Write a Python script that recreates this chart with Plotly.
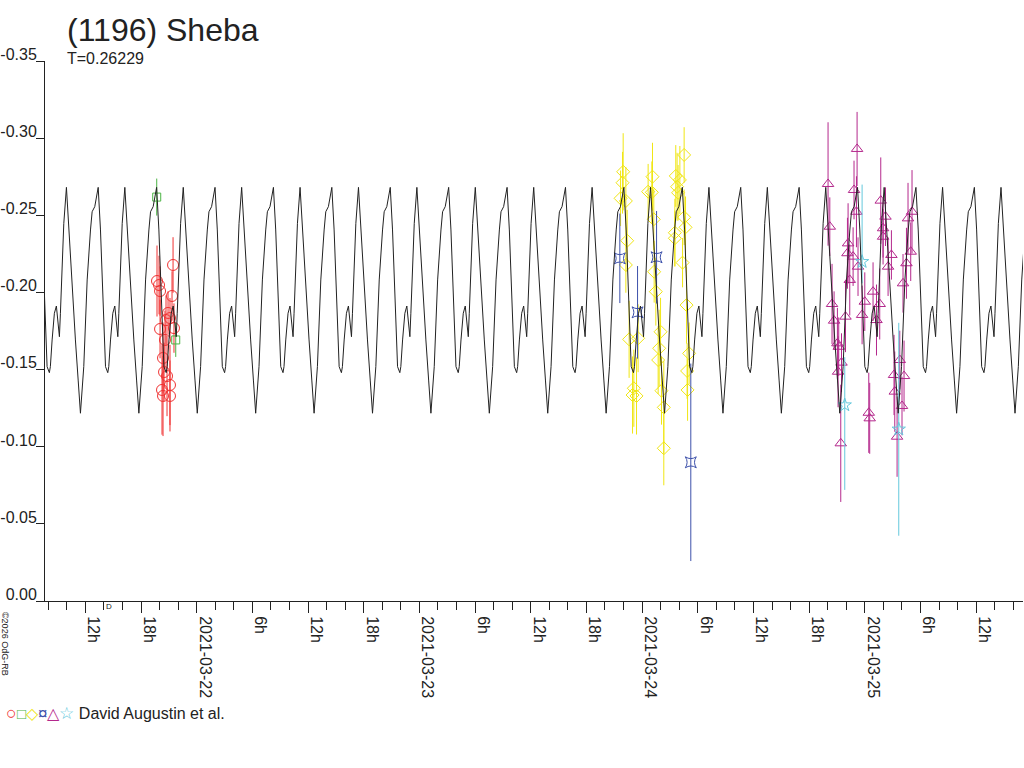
import pandas as pd
import plotly.graph_objects as go

# time base for all hour offsets
base_day = pd.Timestamp("2021-03-21")
period_days = 0.26229
epoch_h = 11.47  # a deep minimum of the model curve

# one cycle of the model lightcurve (phase from deep minimum, magnitude)
curve_phase = [0.000, 0.057, 0.115, 0.172, 0.200, 0.245, 0.274, 0.304, 0.343, 0.372,
               0.400, 0.429, 0.468, 0.485, 0.515, 0.554, 0.588, 0.612, 0.640, 0.657,
               0.686, 0.715, 0.760, 0.801, 0.858, 0.914, 0.961]
curve_mag = [-0.1217, -0.1519, -0.2081, -0.2405, -0.2523, -0.2556, -0.2620, -0.2681, -0.2405, -0.2081,
             -0.1757, -0.1519, -0.1480, -0.1519, -0.1692, -0.1865, -0.1912, -0.1821, -0.1713, -0.1865,
             -0.2189, -0.2448, -0.2681, -0.2405, -0.2037, -0.1692, -0.1432]

# observations: hours since 2021-03-21 00:00, magnitude, error
red_h = [19.72, 19.94, 20.05, 21.45, 21.34, 20.91, 21.12, 20.05, 20.37, 20.48,
         21.12, 20.26, 20.37, 21.12, 20.69, 21.55, 20.80, 20.58]
red_m = [-0.2074, -0.2048, -0.2009, -0.2178, -0.1977, -0.1867, -0.1834, -0.1763, -0.1575, -0.1484,
         -0.1400, -0.1368, -0.1329, -0.1329, -0.1821, -0.1769, -0.1458, -0.1692]
red_e = [0.023, 0.019, 0.016, 0.018, 0.016, 0.014, 0.013, 0.019, 0.023, 0.019,
         0.026, 0.029, 0.026, 0.023, 0.016, 0.016, 0.026, 0.019]

green_h = [19.69, 21.74]
green_m = [-0.2618, -0.1692]
green_e = [0.012, 0.011]

yellow_h = [69.96, 69.89, 69.68, 70.25, 70.39, 70.25, 73.12, 72.65, 73.05, 73.26,
            73.30, 73.48, 76.53, 75.63, 75.77, 75.88, 76.07, 76.53, 76.68, 75.53,
            75.53, 76.36, 76.79, 70.60, 71.57, 73.99, 73.84, 73.73, 77.07, 76.85,
            76.90, 71.11, 70.97, 71.40, 74.09, 74.34, 74.34]
yellow_m = [-0.2782, -0.2711, -0.2610, -0.2593, -0.2335, -0.2178, -0.2750, -0.2653, -0.2649, -0.2474,
            -0.2134, -0.2005, -0.2891, -0.2755, -0.2685, -0.2646, -0.2729, -0.2487, -0.2422, -0.2387,
            -0.2351, -0.2193, -0.1918, -0.1696, -0.1703, -0.1745, -0.1638, -0.1562, -0.1605, -0.1491,
            -0.1368, -0.1379, -0.1335, -0.1329, -0.1363, -0.1255, -0.0990]
yellow_e = [0.025, 0.020, 0.018, 0.022, 0.020, 0.018, 0.022, 0.018, 0.020, 0.020,
            0.020, 0.022, 0.018, 0.020, 0.022, 0.018, 0.022, 0.018, 0.020, 0.022,
            0.018, 0.016, 0.025, 0.025, 0.022, 0.022, 0.025, 0.022, 0.020, 0.018,
            0.020, 0.025, 0.025, 0.025, 0.022, 0.030, 0.024]

blue_h = [69.60, 71.51, 73.56, 77.25]
blue_m = [-0.2221, -0.1871, -0.2228, -0.0899]
blue_e = [0.029, 0.030, 0.030, 0.064]

magenta_h = [92.04, 92.23, 95.17, 94.84, 95.10, 97.72, 98.23, 97.97, 97.97, 98.87,
             98.51, 100.66, 101.09, 100.95, 100.49, 100.12, 94.20, 94.13, 94.74, 94.38,
             95.27, 96.89, 96.00, 97.61, 92.47, 92.69, 93.92, 95.71, 97.26, 93.05,
             93.19, 93.12, 93.49, 93.41, 96.43, 96.53, 99.15, 100.23, 99.23, 99.77,
             100.01, 99.48]
magenta_m = [-0.2703, -0.2426, -0.2930, -0.2664, -0.2523, -0.2595, -0.2491, -0.2416, -0.2361, -0.2243,
             -0.2167, -0.2480, -0.2523, -0.2264, -0.2189, -0.2059, -0.2318, -0.2254, -0.2232, -0.2081,
             -0.2167, -0.2005, -0.1940, -0.1925, -0.1925, -0.1817, -0.1843, -0.1854, -0.1821, -0.1670,
             -0.1648, -0.1486, -0.1545, -0.1022, -0.1220, -0.1184, -0.1465, -0.1458, -0.1357, -0.1562,
             -0.1264, -0.1065]
magenta_e = [0.040, 0.019, 0.024, 0.019, 0.023, 0.028, 0.019, 0.019, 0.018, 0.016,
             0.019, 0.023, 0.027, 0.019, 0.023, 0.019, 0.026, 0.023, 0.019, 0.023,
             0.019, 0.019, 0.019, 0.023, 0.026, 0.019, 0.023, 0.019, 0.023, 0.023,
             0.019, 0.023, 0.019, 0.038, 0.026, 0.023, 0.026, 0.023, 0.026, 0.019,
             0.019, 0.026]

cyan_h = [95.71, 93.84, 99.66]
cyan_m = [-0.2199, -0.1270, -0.1113]
cyan_e_down = [0.014, 0.055, 0.069]
cyan_e_up = [0.050, 0.031, 0.069]

tick_hours = [12, 18, 24, 30, 36, 42, 48, 54, 60, 66, 72, 78, 84, 90, 96, 102, 108]
tick_text = ["12h", "18h", "2021-03-22", "6h", "12h", "18h", "2021-03-23", "6h", "12h", "18h",
             "2021-03-24", "6h", "12h", "18h", "2021-03-25", "6h", "12h"]
y_ticks = [0.0, -0.05, -0.10, -0.15, -0.20, -0.25, -0.30, -0.35]
y_text = ["0.00", "-0.05", "-0.10", "-0.15", "-0.20", "-0.25", "-0.30", "-0.35"]

x_start_h = 7.65
x_end_h = 113.05


def to_time(hours):
    return base_day + pd.to_timedelta(pd.Series(hours), unit="h")


# repeat the cycle over the whole time span
period_h = period_days * 24
model_h = []
model_m = []
for k in range(-2, 18):
    for ph, mg in zip(curve_phase, curve_mag):
        model_h.append(epoch_h + (k + ph) * period_h)
        model_m.append(mg)

fig = go.Figure()


def add_obs(h, m, err, color, symbol, size, err_minus=None):
    ey = dict(type="data", array=err, visible=True, width=0, thickness=1, color=color)
    if err_minus is not None:
        ey["symmetric"] = False
        ey["arrayminus"] = err_minus
    fig.add_trace(go.Scatter(
        x=to_time(h), y=m, mode="markers",
        marker=dict(symbol=symbol, size=size, color=color, line=dict(width=1, color=color)),
        error_y=ey, showlegend=False))


add_obs(red_h, red_m, red_e, "#f03232", "circle-open", 11)
add_obs(green_h, green_m, green_e, "#4cb444", "square-open", 8)
add_obs(yellow_h, yellow_m, yellow_e, "#f0e614", "diamond-open", 10)
add_obs(blue_h, blue_m, blue_e, "#3c50aa", "star-square-open", 10)
add_obs(magenta_h, magenta_m, magenta_e, "#b4288c", "triangle-up-open", 10)
add_obs(cyan_h, cyan_m, cyan_e_down, "#64c8dc", "star-open", 10, cyan_e_up)

fig.add_trace(go.Scatter(x=to_time(model_h), y=model_m, mode="lines",
                         line=dict(color="#222222", width=1), showlegend=False))

fig.update_layout(
    width=1024, height=768,
    margin=dict(l=45, r=1, t=61, b=167),
    paper_bgcolor="white", plot_bgcolor="white",
    font=dict(family="Liberation Sans, Arial, sans-serif", color="#222222"),
    showlegend=False,
    xaxis=dict(
        type="date", automargin=False,
        range=[base_day + pd.Timedelta(hours=x_start_h), base_day + pd.Timedelta(hours=x_end_h)],
        tickvals=list(to_time(tick_hours)), ticktext=tick_text, tickangle=90,
        ticklabelshift=8,
        ticks="outside", ticklen=11, tickwidth=1, tickcolor="#222222",
        minor=dict(ticks="outside", ticklen=8, tickwidth=1, tickcolor="#222222",
                   dtick=2 * 3600 * 1000, tick0="2021-03-21"),
        showline=True, linecolor="#222222", linewidth=1,
        showgrid=False, zeroline=False, tickfont=dict(size=16),
    ),
    yaxis=dict(
        range=[0, -0.35], automargin=False,
        tickvals=y_ticks, ticktext=y_text,
        ticks="outside", ticklen=8, tickwidth=1, tickcolor="#222222",
        ticklabelposition="outside top", ticklabelstandoff=4, ticklabelshift=-5,
        showline=True, linecolor="#222222", linewidth=1,
        showgrid=False, zeroline=False, tickfont=dict(size=16),
    ),
)

fig.add_annotation(text="(1196) Sheba", xref="paper", yref="paper", x=0.0204, y=1.0574,
                   xanchor="left", yanchor="middle", showarrow=False, font=dict(size=32))
fig.add_annotation(text="T=0.26229", xref="paper", yref="paper", x=0.0204, y=1.0046,
                   xanchor="left", yanchor="middle", showarrow=False, font=dict(size=16))
fig.add_annotation(text="©2026 OdG-RB", xref="paper", yref="paper", x=-0.0409, y=-0.0796,
                   xanchor="center", yanchor="middle", textangle=90, showarrow=False,
                   font=dict(size=9))
fig.add_annotation(text="D", xref="paper", yref="paper", x=0.0654, y=-0.0093,
                   xanchor="center", yanchor="middle", showarrow=False, font=dict(size=8))
fig.add_annotation(
    text=("<span style='color:#f03232;font-size:18px'>○</span>"
          "<span style='color:#4cb444;font-size:15px'>□</span>"
          "<span style='color:#f0e614;font-size:16px'>◇</span>"
          "<span style='color:#3c50aa;font-size:17px'>¤</span>"
          "<span style='color:#b4288c;font-size:16px'>△</span>"
          "<span style='color:#64c8dc;font-size:17px'>☆</span>"
          " David Augustin et al."),
    xref="paper", yref="paper", x=-0.0419, y=-0.2074, xanchor="left", yanchor="middle",
    showarrow=False, font=dict(size=16))

fig.write_html("out.html", config={"displayModeBar": False},
               post_script="document.body.style.margin='0';document.body.style.overflow='hidden';")
